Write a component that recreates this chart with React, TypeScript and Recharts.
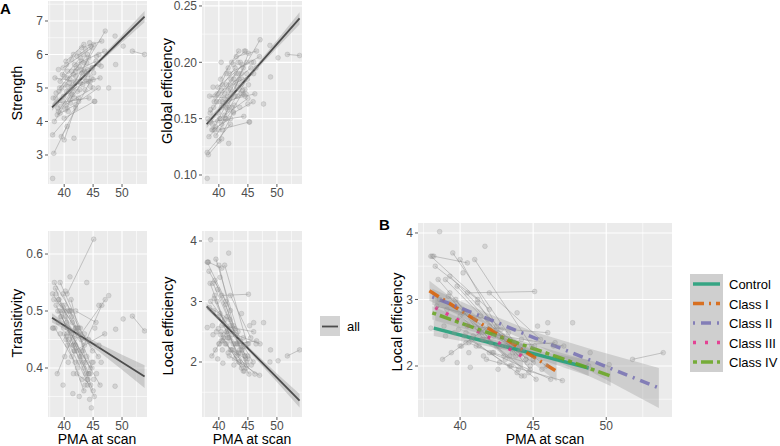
import React from 'react'
import { ComposedChart, Scatter, Line, Area, XAxis, YAxis, CartesianGrid } from 'recharts'

const FONT = '"Liberation Sans", Arial, Helvetica, sans-serif'

// one entry per scan; scans of the same infant share a subject id
const subjectId = [
  1, 1, 2, 2, 3, 3, 4, 4, 5, 5, 6, 6, 7, 7, 8, 8, 9, 9, 10, 10,
  11, 11, 12, 12, 13, 13, 14, 14, 15, 15, 16, 16, 17, 17, 18, 18, 19, 19, 20, 20,
  21, 21, 22, 22, 23, 23, 24, 24, 25, 25, 26, 26, 27, 27, 28, 28, 29, 29, 30, 30,
  31, 32, 33, 34, 35, 36, 37, 38, 39, 40, 41, 42, 43, 44, 45, 46, 47, 48, 49, 50,
  51, 52, 53, 54, 55, 56, 57, 58, 59, 60, 61, 62, 63,
  64, 65, 66, 67, 68, 69, 70, 71, 72, 73, 74, 75, 76, 77, 78, 79, 80, 81, 82, 83,
  84, 85, 86, 87, 88, 89, 90, 91, 92, 93,
]

const pma = [
  38.2, 40.5, 38.0, 42.0, 38.3, 41.2, 39.0, 43.5, 39.5, 44.5,
  40.0, 42.5, 38.5, 43.0, 39.2, 44.0, 40.2, 45.0, 40.5, 45.1,
  40.5, 46.0, 38.8, 42.0, 41.5, 47.1, 42.0, 45.5, 40.8, 44.2,
  43.0, 46.5, 51.8, 53.9, 39.8, 44.8, 40.0, 45.2, 41.2, 43.8,
  39.3, 42.8, 38.6, 44.3, 40.6, 46.2, 41.8, 47.0, 42.5, 45.9,
  39.7, 41.6, 40.3, 43.4, 41.0, 44.9, 38.4, 41.9, 42.2, 44.6,
  38.0, 38.1, 38.6, 39.0, 39.4, 39.8, 40.1, 40.4, 40.7, 41.0,
  41.3, 41.5, 41.7, 42.0, 42.3, 42.6, 42.8, 43.1, 43.3, 43.6,
  43.9, 44.1, 44.4, 44.7, 45.0, 45.3, 45.6, 46.0, 46.4, 47.7,
  48.8, 48.9, 50.2,
  38.9, 39.1, 39.3, 39.6, 39.9, 40.0, 40.2, 40.4, 40.6, 40.9,
  41.1, 41.3, 41.4, 41.6, 41.8, 42.1, 42.3, 42.5, 42.7, 42.9,
  43.2, 43.4, 43.5, 43.7, 43.9, 44.0, 44.2, 44.5, 44.8, 45.1,
]

const strength = [
  3.05, 3.85, 3.60, 4.40, 4.00, 4.80, 4.30, 5.50, 3.55, 5.20,
  3.45, 4.70, 4.70, 5.80, 5.00, 6.00, 4.50, 5.00, 4.40, 6.30,
  5.30, 5.70, 4.20, 4.50, 5.10, 6.70, 5.50, 5.80, 4.90, 5.20,
  6.20, 6.40, 6.10, 6.00, 5.60, 6.20, 4.10, 4.60, 4.95, 5.45,
  5.20, 5.90, 4.55, 4.70, 5.05, 5.30, 5.70, 6.10, 4.60, 5.00,
  5.40, 6.00, 5.80, 6.30, 4.65, 5.60, 5.30, 5.20, 5.95, 6.25,
  2.30, 4.70, 4.85, 5.55, 4.45, 4.60, 5.10, 5.70, 4.30, 5.25,
  5.50, 4.80, 3.50, 5.35, 4.90, 5.65, 5.15, 5.45, 6.00, 4.95,
  5.75, 5.40, 6.35, 5.30, 5.25, 4.60, 5.95, 6.00, 5.65, 5.00,
  6.55, 5.70, 6.25,
  4.40, 4.90, 4.25, 5.00, 4.75, 5.35, 4.35, 4.90, 5.50, 5.15,
  4.55, 5.85, 5.00, 5.40, 4.70, 5.60, 5.20, 6.05, 4.95, 5.55,
  5.10, 5.75, 5.30, 6.15, 5.20, 5.55, 5.90, 5.05, 5.60, 5.45,
]

const globalEff = [
  0.118, 0.132, 0.120, 0.145, 0.134, 0.150, 0.140, 0.185, 0.135, 0.176,
  0.130, 0.156, 0.155, 0.190, 0.165, 0.198, 0.150, 0.168, 0.145, 0.208,
  0.175, 0.190, 0.140, 0.150, 0.170, 0.220, 0.180, 0.195, 0.162, 0.172,
  0.205, 0.210, 0.207, 0.206, 0.178, 0.200, 0.140, 0.147, 0.160, 0.180,
  0.170, 0.195, 0.147, 0.152, 0.165, 0.172, 0.190, 0.205, 0.155, 0.165,
  0.172, 0.195, 0.185, 0.210, 0.153, 0.185, 0.170, 0.168, 0.200, 0.210,
  0.097, 0.150, 0.158, 0.178, 0.143, 0.148, 0.165, 0.200, 0.140, 0.172,
  0.180, 0.158, 0.128, 0.176, 0.160, 0.185, 0.170, 0.178, 0.200, 0.160,
  0.190, 0.175, 0.210, 0.172, 0.163, 0.147, 0.200, 0.200, 0.195, 0.163,
  0.215, 0.187, 0.204,
  0.145, 0.160, 0.140, 0.165, 0.155, 0.172, 0.150, 0.160, 0.180, 0.168,
  0.150, 0.190, 0.165, 0.175, 0.160, 0.185, 0.172, 0.198, 0.162, 0.182,
  0.170, 0.190, 0.176, 0.200, 0.172, 0.185, 0.195, 0.170, 0.190, 0.180,
]

const transitivity = [
  0.52, 0.50, 0.53, 0.47, 0.55, 0.50, 0.52, 0.44, 0.49, 0.40,
  0.51, 0.46, 0.54, 0.42, 0.50, 0.38, 0.49, 0.36, 0.53, 0.626,
  0.46, 0.44, 0.39, 0.47, 0.44, 0.52, 0.50, 0.48, 0.45, 0.39,
  0.43, 0.51, 0.491, 0.465, 0.53, 0.40, 0.46, 0.35, 0.52, 0.41,
  0.55, 0.47, 0.51, 0.39, 0.47, 0.37, 0.43, 0.46, 0.47, 0.42,
  0.50, 0.44, 0.45, 0.36, 0.50, 0.43, 0.47, 0.41, 0.39, 0.37,
  0.47, 0.47, 0.53, 0.48, 0.49, 0.37, 0.42, 0.48, 0.41, 0.56,
  0.49, 0.355, 0.43, 0.44, 0.40, 0.35, 0.46, 0.38, 0.41, 0.37,
  0.55, 0.38, 0.345, 0.33, 0.41, 0.47, 0.39, 0.51, 0.41, 0.527,
  0.368, 0.468, 0.486,
  0.50, 0.52, 0.46, 0.51, 0.47, 0.50, 0.535, 0.455, 0.44, 0.50,
  0.465, 0.42, 0.48, 0.39, 0.455, 0.43, 0.47, 0.41, 0.42, 0.45,
  0.43, 0.40, 0.46, 0.39, 0.42, 0.37, 0.45, 0.39, 0.41, 0.38,
]

const localEff = [
  3.65, 3.55, 3.65, 2.85, 3.50, 3.00, 3.30, 2.30, 3.70, 2.10,
  3.60, 2.60, 3.30, 2.15, 3.05, 1.95, 2.80, 2.05, 3.10, 3.12,
  2.60, 2.50, 2.10, 2.60, 2.50, 2.30, 3.10, 2.40, 2.40, 1.85,
  2.30, 2.35, 2.10, 2.20, 3.20, 1.95, 2.75, 1.80, 2.95, 2.15,
  3.35, 2.55, 3.00, 2.25, 2.35, 1.80, 2.10, 1.78, 2.55, 2.00,
  3.00, 2.40, 2.45, 2.00, 3.60, 2.30, 2.90, 2.70, 2.20, 2.05,
  2.57, 3.65, 4.02, 2.45, 2.20, 2.05, 2.30, 2.50, 1.98, 2.70,
  2.30, 2.40, 3.80, 2.20, 2.45, 1.95, 2.30, 2.10, 2.50, 2.20,
  2.80, 2.25, 1.85, 1.90, 2.10, 2.60, 1.95, 2.65, 2.30, 2.65,
  2.00, 2.20, 2.02,
  2.60, 2.85, 3.10, 2.50, 2.55, 2.30, 3.40, 2.35, 2.20, 2.45,
  2.30, 2.50, 2.75, 2.15, 2.40, 2.35, 2.20, 2.30, 2.05, 2.45,
  2.30, 2.15, 2.00, 2.35, 1.90, 2.20, 2.40, 2.10, 2.00, 2.30,
]

// whole-sample linear fits (panel A) with 95% band
const fitX = [37.9, 42, 46, 50, 53.9]
const strengthFit = [4.42, 5.11, 5.79, 6.47, 7.13]
const strengthLo = [4.32, 5.07, 5.73, 6.36, 6.96]
const strengthHi = [4.52, 5.15, 5.85, 6.58, 7.30]
const globalFit = [0.145, 0.1691, 0.1926, 0.2161, 0.239]
const globalLo = [0.1415, 0.1676, 0.1906, 0.2126, 0.2335]
const globalHi = [0.1485, 0.1706, 0.1946, 0.2196, 0.2445]
const transFit = [0.488, 0.4616, 0.4358, 0.4101, 0.385]
const transLo = [0.480, 0.4576, 0.4288, 0.3971, 0.365]
const transHi = [0.496, 0.4656, 0.4428, 0.4231, 0.405]
const localFit = [2.92, 2.52, 2.13, 1.74, 1.36]
const localLo = [2.87, 2.50, 2.09, 1.67, 1.25]
const localHi = [2.97, 2.54, 2.17, 1.81, 1.47]

// per-class fits of local efficiency (panel B)
const classNames = ['Control', 'Class I', 'Class II', 'Class III', 'Class IV']
const controlFit = { x: [38.2, 41, 43.5, 46, 48.8], y: [2.57, 2.41, 2.27, 2.13, 1.97], lo: [2.45, 2.34, 2.22, 2.06, 1.85], hi: [2.69, 2.48, 2.32, 2.20, 2.09] }
const class1Fit = { x: [37.9, 40, 42.2, 44.5, 46.6], y: [3.13, 2.84, 2.53, 2.21, 1.92], lo: [2.98, 2.75, 2.46, 2.12, 1.77], hi: [3.28, 2.93, 2.60, 2.30, 2.07] }
const class2Fit = { x: [38.1, 42, 45, 49, 53.6], y: [3.04, 2.70, 2.43, 2.08, 1.67], lo: [2.92, 2.62, 2.34, 1.91, 1.37], hi: [3.16, 2.78, 2.52, 2.25, 1.97] }
const class3Fit = { x: [38.3, 39.8, 41.3, 42.8, 44.3], y: [2.88, 2.70, 2.51, 2.33, 2.14], lo: [2.68, 2.57, 2.41, 2.20, 1.94], hi: [3.08, 2.83, 2.61, 2.46, 2.34] }
const class4Fit = { x: [38.1, 41, 44, 47, 50.3], y: [2.80, 2.57, 2.34, 2.11, 1.85], lo: [2.70, 2.51, 2.29, 2.03, 1.70], hi: [2.90, 2.63, 2.39, 2.19, 2.00] }
const classFits = [controlFit, class1Fit, class2Fit, class3Fit, class4Fit]

const CLASS_STYLE = [
  { color: '#1B9E77', dash: undefined },
  { color: '#D95F02', dash: '11 5 2 5' },
  { color: '#7570B3', dash: '2 6 10 6' },
  { color: '#E7298A', dash: '3 9' },
  { color: '#66A61E', dash: '4 4 12 4' },
]

const X_TICKS = [40, 45, 50]
const X_MINOR = [37.5, 42.5, 47.5, 52.5]
const Y_AXIS_W = 40
const X_AXIS_H = 22
const PAD = 3

function points(values: number[]) {
  return pma.map((x, i) => ({ x, y: values[i] }))
}

// join repeated scans of each infant, broken by a null between subjects
function trajectories(values: number[]) {
  const bySubject = new Map<number, { x: number; y: number }[]>()
  pma.forEach((x, i) => {
    const list = bySubject.get(subjectId[i]) ?? []
    list.push({ x, y: values[i] })
    bySubject.set(subjectId[i], list)
  })
  const out: { x: number; y: number | null }[] = []
  bySubject.forEach(list => {
    if (list.length < 2) return
    list.sort((a, b) => a.x - b.x).forEach(p => out.push(p))
    out.push({ x: list[list.length - 1].x, y: null })
  })
  return out
}

function band(x: number[], y: number[], lo: number[], hi: number[]) {
  return x.map((v, i) => ({ x: v, y: y[i], range: [lo[i], hi[i]] }))
}

const renderDot = (p: any) => (
  <circle cx={p.cx} cy={p.cy} r={2.4} fill="#999999" fillOpacity={0.3} stroke="#808080" strokeOpacity={0.35} strokeWidth={0.6} />
)

const tickStyle = { fontSize: 12, fill: '#4D4D4D', fontFamily: FONT }

function Panel(props: {
  left: number; top: number; plotW: number; plotH: number
  xDomain: [number, number]; yDomain: [number, number]
  yTicks: number[]; yMinor: number[]; digits: number
  values: number[]
  children?: React.ReactNode
}) {
  const { left, top, plotW, plotH, xDomain, yDomain, yTicks, yMinor, digits, values, children } = props
  return (
    <div style={{ position: 'absolute', left: left - Y_AXIS_W, top: top - PAD }}>
      <ComposedChart
        width={Y_AXIS_W + plotW + PAD}
        height={PAD + plotH + X_AXIS_H}
        margin={{ top: PAD, right: PAD, bottom: 0, left: 0 }}
      >
        <CartesianGrid fill="#EBEBEB" fillOpacity={1} stroke="#ffffff" strokeWidth={0.6} verticalValues={X_MINOR} horizontalValues={yMinor} />
        <CartesianGrid stroke="#ffffff" strokeWidth={1.2} verticalValues={X_TICKS} horizontalValues={yTicks} />
        <XAxis
          type="number" dataKey="x" domain={xDomain} allowDataOverflow ticks={X_TICKS} interval={0}
          height={X_AXIS_H} tick={tickStyle} tickSize={3} tickMargin={1}
          tickLine={{ stroke: '#333', strokeWidth: 0.8 }} axisLine={false}
        />
        <YAxis
          type="number" domain={yDomain} allowDataOverflow ticks={yTicks} interval={0}
          width={Y_AXIS_W} tick={tickStyle} tickSize={3} tickMargin={2}
          tickLine={{ stroke: '#333', strokeWidth: 0.8 }} axisLine={false}
          tickFormatter={(v: number) => v.toFixed(digits)}
        />
        <Scatter data={points(values)} dataKey="y" shape={renderDot} isAnimationActive={false} />
        <Line
          data={trajectories(values)} dataKey="y" type="linear" stroke="#8a8a8a" strokeOpacity={0.75}
          strokeWidth={0.6} dot={false} activeDot={false} connectNulls={false} isAnimationActive={false}
        />
        {children}
      </ComposedChart>
    </div>
  )
}

function fitElements(data: any[], key: string) {
  return [
    <Area key={key + 'b'} data={data} dataKey="range" type="linear" stroke="none" fill="#999999" fillOpacity={0.4} activeDot={false} isAnimationActive={false} />,
    <Line key={key + 'l'} data={data} dataKey="y" type="linear" stroke="#4D4D4D" strokeWidth={1.8} dot={false} activeDot={false} isAnimationActive={false} />,
  ]
}

function YTitle({ x, y, text }: { x: number; y: number; text: string }) {
  return (
    <div style={{ position: 'absolute', left: x, top: y, transform: 'translate(-50%, -50%) rotate(-90deg)', fontSize: 14.5, lineHeight: 1, whiteSpace: 'nowrap' }}>
      {text}
    </div>
  )
}

function XTitle({ x, y, text }: { x: number; y: number; text: string }) {
  return (
    <div style={{ position: 'absolute', left: x, top: y, transform: 'translate(-50%, -50%)', fontSize: 14, lineHeight: 1, whiteSpace: 'nowrap' }}>
      {text}
    </div>
  )
}

export default function App() {
  const bandElements = classFits.map((f, i) => (
    <Area key={'band' + i} data={band(f.x, f.y, f.lo, f.hi)} dataKey="range" type="linear" stroke="none" fill="#999999" fillOpacity={0.35} activeDot={false} isAnimationActive={false} />
  ))
  const classLines = classFits.map((f, i) => (
    <Line
      key={'line' + i} data={band(f.x, f.y, f.lo, f.hi)} dataKey="y" type="linear"
      stroke={CLASS_STYLE[i].color} strokeOpacity={0.85} strokeWidth={3.5} strokeDasharray={CLASS_STYLE[i].dash}
      dot={false} activeDot={false} isAnimationActive={false}
    />
  ))

  return (
    <div style={{ position: 'absolute', left: 0, top: 0, width: 780, height: 446, background: '#fff', fontFamily: FONT, overflow: 'hidden', color: '#000' }}>
      <div style={{ position: 'absolute', left: 0, top: 1, fontSize: 15, fontWeight: 'bold', lineHeight: 1 }}>A</div>
      <div style={{ position: 'absolute', left: 379, top: 217, fontSize: 15, fontWeight: 'bold', lineHeight: 1 }}>B</div>

      <Panel left={48} top={1} plotW={99} plotH={183} xDomain={[37.2, 54.32]} yDomain={[2.134, 7.597]}
        yTicks={[3, 4, 5, 6, 7]} yMinor={[2.5, 3.5, 4.5, 5.5, 6.5, 7.5]} digits={0} values={strength}>
        {fitElements(band(fitX, strengthFit, strengthLo, strengthHi), 's')}
      </Panel>
      <Panel left={202} top={1} plotW={100} plotH={183} xDomain={[37.1, 54.32]} yDomain={[0.092, 0.2544]}
        yTicks={[0.1, 0.15, 0.2, 0.25]} yMinor={[0.125, 0.175, 0.225]} digits={2} values={globalEff}>
        {fitElements(band(fitX, globalFit, globalLo, globalHi), 'g')}
      </Panel>
      <Panel left={48} top={231} plotW={99} plotH={186} xDomain={[37.2, 54.32]} yDomain={[0.314, 0.6404]}
        yTicks={[0.4, 0.5, 0.6]} yMinor={[0.35, 0.45, 0.55]} digits={1} values={transitivity}>
        {fitElements(band(fitX, transFit, transLo, transHi), 't')}
      </Panel>
      <Panel left={202} top={231} plotW={100} plotH={186} xDomain={[37.1, 54.32]} yDomain={[1.091, 4.165]}
        yTicks={[2, 3, 4]} yMinor={[1.5, 2.5, 3.5]} digits={0} values={localEff}>
        {fitElements(band(fitX, localFit, localLo, localHi), 'l')}
      </Panel>
      <Panel left={418} top={223} plotW={254} plotH={194} xDomain={[37.12, 54.5]} yDomain={[1.233, 4.15]}
        yTicks={[2, 3, 4]} yMinor={[1.5, 2.5, 3.5]} digits={0} values={localEff}>
        {bandElements}
        {classLines}
      </Panel>

      <YTitle x={17} y={93} text="Strength" />
      <YTitle x={167} y={91} text="Global efficiency" />
      <YTitle x={17} y={323} text="Transitivity" />
      <YTitle x={168} y={326} text="Local efficiency" />
      <YTitle x={397} y={322} text="Local efficiency" />
      <XTitle x={97} y={439} text="PMA at scan" />
      <XTitle x={252} y={439} text="PMA at scan" />
      <XTitle x={545} y={439} text="PMA at scan" />

      {/* legend for panel A */}
      <svg style={{ position: 'absolute', left: 320, top: 316 }} width={20} height={20}>
        <rect x={0} y={0} width={20} height={20} fill="#D3D3D3" />
        <line x1={2} x2={18} y1={10.5} y2={10.5} stroke="#4D4D4D" strokeWidth={1.8} />
      </svg>
      <div style={{ position: 'absolute', left: 347, top: 326, transform: 'translateY(-50%)', fontSize: 13, lineHeight: 1 }}>all</div>

      {/* legend for panel B */}
      <svg style={{ position: 'absolute', left: 690, top: 274 }} width={33} height={98}>
        <rect x={0} y={0} width={33} height={98} fill="#CFCFCF" />
        {classNames.map((n, i) => (
          <line key={n} x1={3} x2={30} y1={10 + i * 19.5} y2={10 + i * 19.5} stroke={CLASS_STYLE[i].color}
            strokeOpacity={0.85} strokeWidth={3.5} strokeDasharray={CLASS_STYLE[i].dash} />
        ))}
      </svg>
      {classNames.map((n, i) => (
        <div key={n} style={{ position: 'absolute', left: 729, top: 284 + i * 19.5, transform: 'translateY(-50%)', fontSize: 13, lineHeight: 1, whiteSpace: 'nowrap' }}>
          {n}
        </div>
      ))}
    </div>
  )
}
